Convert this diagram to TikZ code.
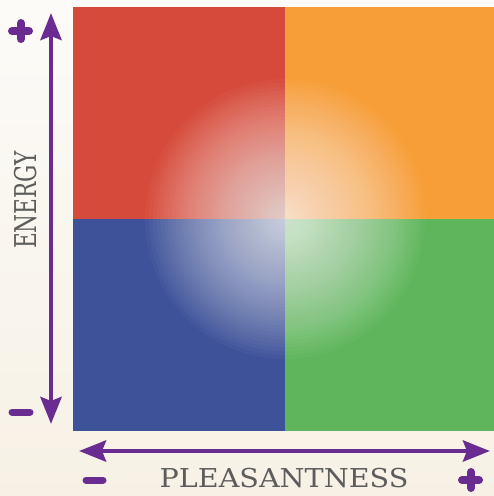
\documentclass[tikz,border=0pt]{standalone}
\usepackage{fontspec}
\setmainfont{DejaVu Serif}
\usetikzlibrary{arrows.meta}
\definecolor{qred}{HTML}{D54A3A}
\definecolor{qorange}{HTML}{F79E38}
\definecolor{qblue}{HTML}{3E5299}
\definecolor{qgreen}{HTML}{5EB55B}
\definecolor{axispurple}{HTML}{6A2C91}
\definecolor{labelgray}{HTML}{5C5C5C}
\definecolor{bgtop}{HTML}{FCFBF8}
\definecolor{bgbot}{HTML}{F7F1E5}
\tikzset{
  axis/.style={axispurple, line width=4.5pt, -{Stealth[length=27pt,width=21pt,inset=4pt]}},
  sign/.style={axispurple, line width=8pt, line cap=round},
  axislabel/.style={labelgray, inner sep=0pt},
  glowring/.style={white, fill opacity=0.03},
}
\begin{document}
\begin{tikzpicture}[x=1pt,y=-1pt]
\useasboundingbox (0,0) rectangle (494,496);
\shade[top color=bgtop, bottom color=bgbot] (0,0) rectangle (494,496);
% quadrants
\fill[qred] (73,7) rectangle (285,219);
\fill[qorange] (285,7) rectangle (494,219);
\fill[qblue] (73,219) rectangle (285,431);
\fill[qgreen] (285,219) rectangle (494,431);
% glow
\coordinate (glowc) at (285,219);
\foreach \i in {1,...,50} {
  \fill[glowring] (glowc) circle ({140*(\i/50)^1.4});
}
% axes
\coordinate (vbot) at (51,424);
\coordinate (vtop) at (51,13);
\coordinate (hleft) at (79,451);
\coordinate (hright) at (490,451);
\coordinate (hmid) at (285,451);
\draw[axis] (hmid) -- (hright);
\draw[axis] (hmid) -- (hleft);
\coordinate (vmid) at (51,219);
\draw[axis] (vmid) -- (vtop);
\draw[axis] (vmid) -- (vbot);
% signs
\draw[sign] (12,31) -- (29,31);
\draw[sign] (21,23) -- (21,39);
\draw[sign, line width=7pt] (12,412) -- (30,412);
\draw[sign, line width=7pt] (86,480) -- (103,480);
\draw[sign] (462,480) -- (479,480);
\draw[sign] (471,472) -- (471,488);
% labels
\node[axislabel, rotate=90, xscale=0.72, font=\fontsize{30}{30}\selectfont] (energy) at (26,200) {ENERGY};
\node[axislabel, xscale=1.1, font=\fontsize{26}{26}\selectfont] (pleas) at (284,478) {PLEASANTNESS};
\end{tikzpicture}
\end{document}
